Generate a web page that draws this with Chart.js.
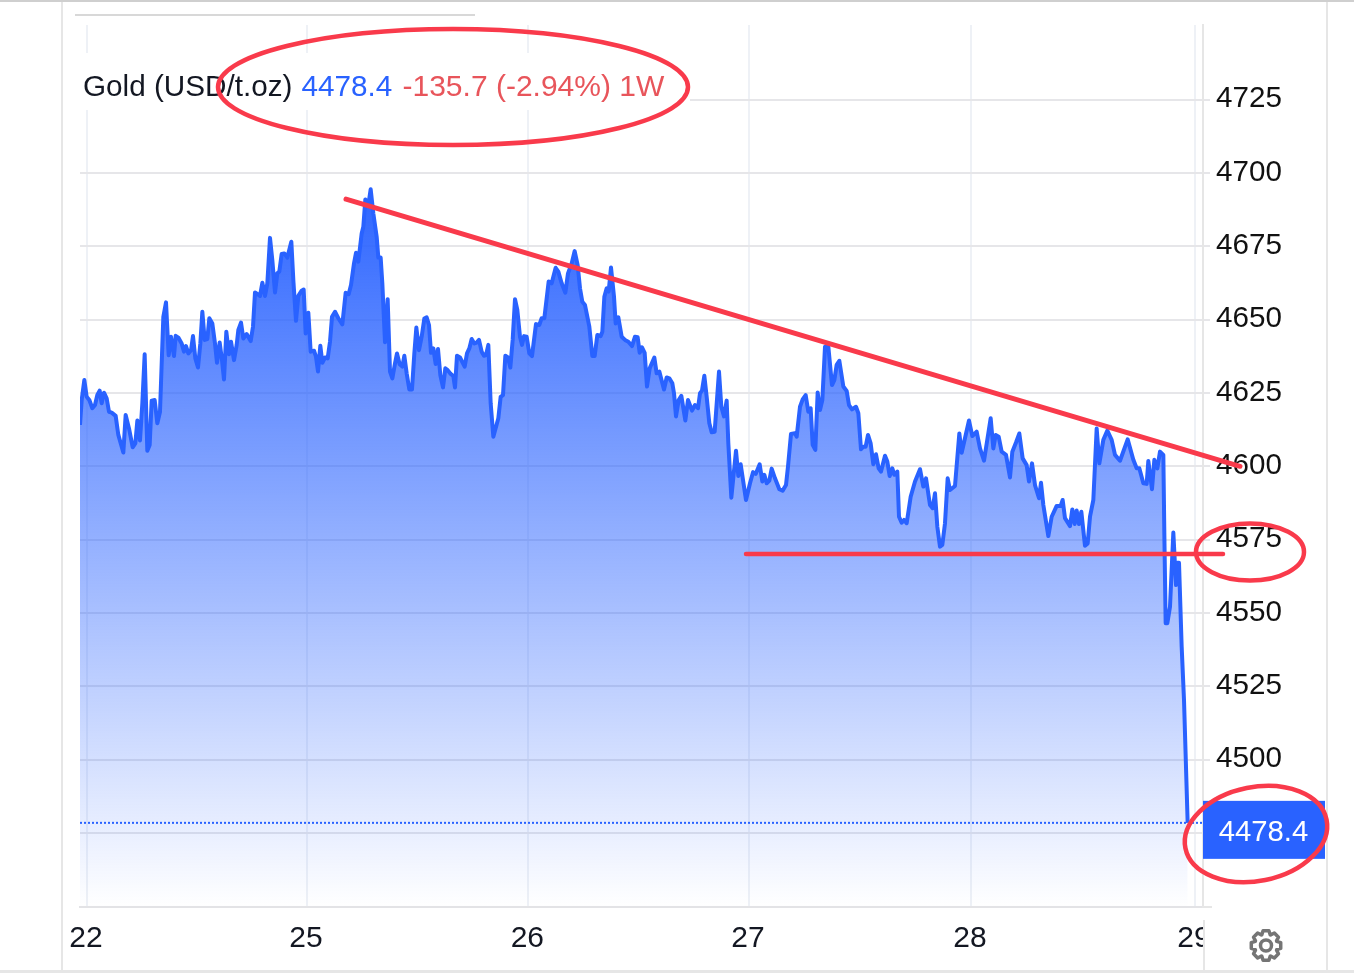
<!DOCTYPE html>
<html>
<head>
<meta charset="utf-8">
<title>Gold (USD/t.oz)</title>
<script src="https://cdn.jsdelivr.net/npm/chart.js@4"></script>
<style>
html,body{margin:0;padding:0;background:#fff;overflow:hidden}
canvas{display:block}
</style>
</head>
<body>
<canvas id="c" width="1354" height="975"></canvas>
<script>
// time axis: 663 steps to one session, 0 = session "22"
const timeSteps = [-21,-16,-8,-1,7,16,24,31,38,44,51,59,66,74,86,94,109,116,126,137,145,151,159,166,173,181,188,194,203,211,219,229,237,245,252,261,266,274,284,291,297,304,312,318,325,333,340,346,353,361,367,376,384,390,398,405,411,418,426,432,441,449,454,462,469,479,491,498,504,512,519,526,534,541,549,556,564,571,577,584,592,601,613,619,627,634,644,650,656,664,671,681,687,693,700,706,714,722,729,735,744,754,766,776,785,792,801,807,814,824,829,835,844,851,859,869,874,881,886,894,902,909,916,924,930,938,946,952,959,967,975,982,988,996,1004,1012,1019,1026,1032,1039,1046,1053,1060,1068,1075,1082,1091,1099,1104,1110,1119,1133,1140,1147,1154,1162,1169,1176,1184,1191,1197,1204,1211,1219,1234,1241,1248,1255,1263,1270,1277,1284,
1291,1299,1305,1311,1319,1327,1335,1347,1357,1364,1372,1385,1394,1406,1414,1424,1435,1443,1454,1463,1472,1479,1486,1494,1507,1516,1523,1531,1541,1546,1552,1559,1565,1572,1581,1586,1594,1604,1614,1624,1635,1644,1652,1658,1665,1673,1680,1688,1702,1709,1717,1731,1739,1747,1756,1761,1767,1775,1783,1795,1803,1815,1824,1833,1839,1845,1852,1859,1867,1874,1883,1896,1903,1911,1919,1924,1933,1947,1954,1961,1977,1989,1998,2006,2018,2026,2032,2039,2047,2054,2064,2077,2087,2097,2103,2112,2124,2129,2139,2147,2156,2164,2171,2177,2185,2192,2199,2206,2214,2224,2235,2242,2249,2257,2269,2279,2286,2295,2307,2314,2322,2329,2336,2343,2351,2359,2367,2375,2382,2394,2401,2408,2416,2422,2431,
2436,2444,2451,2459,2471,2484,2499,2509,2517,2529,2537,2544,2551,2559,2566,2574,2582,2589,2604,2617,2624,2646,2656,2669,2679,2691,2711,2719,2726,2735,2744,2757,2769,2776,2787,2797,2807,2819,2826,2835,2844,2856,2862,2869,2884,2894,2909,2921,2927,2934,2949,2956,2963,2969,2976,2983,2994,3002,3009,3019,3029,3037,3049,3061,3074,3084,3099,3122,3139,3149,3157,3169,3179,3184,3195,3202,3211,3219,3229,3232,3236,3241,3249,3259,3267,3271,3276,3284,3291,3302];
const goldPrices = [4614.1,4622.6,4629.4,4623.7,4622.6,4619.8,4620.9,4624.3,4625.8,4621.5,4625.1,4623.2,4618.6,4618.3,4617.2,4610.7,4604.7,4617.5,4612.9,4606.5,4607.8,4615.6,4608.8,4621.5,4638.2,4605.3,4607.3,4622.4,4622.6,4614.7,4618.6,4651.0,4655.9,4637.9,4644.2,4637.6,4644.5,4643.9,4641.9,4639.1,4641.0,4638.5,4639.6,4644.4,4636.8,4633.7,4641.9,4652.7,4643.1,4643.4,4650.5,4648.7,4641.9,4635.3,4642.2,4636.2,4629.6,4645.9,4638.2,4642.5,4636.2,4641.4,4646.5,4649.0,4643.6,4645.1,4642.7,4647.6,4659.3,4658.7,4658.1,4662.6,4658.1,4662.4,4677.9,4670.3,4659.3,4665.8,4666.4,4672.4,4672.6,4671.2,4676.6,4663.5,4649.6,4658.1,4659.9,4660.3,4645.3,4652.4,4639.1,4639.4,4637.4,4632.3,4641.1,4635.3,4637.1,4636.8,4642.5,4651.0,4652.7,4650.5,4648.4,4659.2,4658.7,4661.8,4669.2,4672.8,4669.8,4679.4,4681.7,4691.0,4689.1,4694.5,4686.2,4678.3,4671.2,4671.2,4662.4,4642.3,4657.0,4632.3,4630.0,4635.1,4638.5,4634.8,4634.0,4637.7,4631.7,4626.2,4626.2,4638.5,4647.3,4639.6,4644.2,4650.4,4650.8,4648.2,4638.7,4640.2,4634.9,4640.0,4631.1,4626.9,4633.4,4632.8,4631.5,4630.8,4626.9,4637.7,4637.1,4634.0,4638.5,4640.2,4643.4,4641.9,4642.2,4643.1,4639.1,4637.7,4637.9,4641.4,4621.5,4610.1,4616.4,4623.7,4624.3,4637.7,4637.1,4633.7,4643.1,4657.0,
4653.3,4644.2,4641.4,4644.4,4644.2,4638.5,4637.6,4648.5,4648.2,4650.5,4650.5,4663.0,4662.4,4667.7,4666.4,4662.4,4659.2,4665.8,4669.2,4673.4,4668.6,4660.7,4656.1,4655.0,4647.6,4637.6,4637.6,4644.8,4644.4,4645.9,4657.8,4660.7,4659.6,4667.8,4657.8,4648.7,4650.8,4644.2,4643.1,4642.5,4641.0,4644.2,4644.0,4638.7,4640.6,4638.7,4627.2,4633.4,4637.1,4631.7,4632.3,4626.2,4630.3,4630.0,4628.3,4624.9,4617.0,4622.6,4624.0,4615.6,4622.6,4619.0,4620.9,4619.8,4624.9,4625.8,4630.9,4623.7,4614.7,4611.6,4611.8,4632.3,4620.3,4617.0,4622.4,4607.8,4589.3,4605.3,4596.7,4600.7,4588.5,4594.2,4598.0,4597.4,4600.7,4594.8,4597.1,4594.2,4595.1,4599.2,4595.9,4592.2,4591.7,4593.6,4599.9,4611.0,4611.3,4610.1,4620.3,4622.8,4624.3,4618.6,4619.8,4607.3,4605.6,4625.2,4619.2,4622.6,4640.8,4640.8,4627.7,4629.4,4634.6,4636.0,4627.2,4625.7,4620.9,4619.4,4620.3,4618.1,4605.8,4606.7,4606.7,4610.7,4607.8,4600.7,4604.1,4599.3,4598.2,4603.6,4601.6,4596.7,4599.3,4597.1,4598.2,
4582.8,4580.8,4581.7,4580.6,4589.6,4594.8,4599.0,4593.1,4595.9,4586.8,4585.7,4590.8,4579.4,4572.6,4573.2,4580.6,4595.9,4591.9,4593.3,4611.2,4604.6,4615.6,4610.3,4611.8,4606.1,4601.9,4616.4,4606.1,4610.7,4610.1,4605.0,4603.9,4596.2,4605.0,4608.1,4611.2,4602.7,4600.4,4594.8,4601.0,4593.6,4589.1,4594.4,4586.8,4576.2,4582.8,4586.5,4586.5,4588.5,4582.3,4579.6,4585.3,4580.3,4584.9,4580.3,4584.5,4572.9,4573.7,4582.8,4588.5,4612.9,4601.0,4609.0,4612.2,4609.0,4603.9,4601.9,4609.2,4602.2,4599.3,4599.3,4594.2,4594.0,4601.8,4592.2,4602.2,4599.3,4605.0,4603.9,4577.1,4546.5,4546.5,4552.1,4577.4,4559.5,4567.1,4567.1,4538.5,4520.3,4478.4];
const lastPrice = 4478.4;
const priceTicks = [4475,4500,4525,4550,4575,4600,4625,4650,4675,4700,4725];
const dayTickSteps = [0,660,1324,1986,2652,3324];
const dayLabels = ['22','25','26','27','28','29'];
const resistanceTimes = [777,3459];
const resistancePrices = [4691.1,4600];
const supportTimes = [1977,3408];
const supportPrices = [4570.1,4570.1];
const axisTimeRange = [-21,3348];
const axisPriceRange = [4449.7,4750.5];
const headerParts = ['Gold (USD/t.oz)','4478.4','-135.7 (-2.94%) 1W'];

const FONT = '"Liberation Sans", Arial, sans-serif';
const BLUE = '#2962FF', RED = '#F93A4B';
const pairs = (xs, ys) => xs.map((x, i) => ({x, y: ys[i]}));

function ellipse(ctx, cx, cy, rx, ry, rot) {
  ctx.beginPath();
  ctx.ellipse(cx, cy, rx, ry, rot, 0, Math.PI * 2);
  ctx.stroke();
}

const framePlugin = {
  id: 'frame',
  beforeDatasetsDraw(chart) {
    const c = chart.ctx;
    c.save();
    c.fillStyle = '#fff';
    c.fillRect(72, 53, 618, 57);
    c.restore();
  },
  afterDraw(chart) {
    const c = chart.ctx;
    c.save();
    // clip the cut-off last day label at the price axis
    c.fillStyle = '#fff';
    c.fillRect(1205, 912, 60, 20);
    c.fillRect(1205, 920, 30, 48);
    // page frame
    c.fillStyle = '#cfcfcf'; c.fillRect(0, 0, 1354, 2);
    c.fillStyle = '#d8d8d8'; c.fillRect(75, 14, 400, 2);
    c.fillStyle = '#e6e6e6';
    c.fillRect(61, 2, 2, 968);
    c.fillRect(1326, 2, 2, 968);
    c.fillRect(1203, 920, 2, 50);
    c.fillRect(1203, 906, 9, 2);
    c.fillRect(0, 970, 1354, 3);
    // header
    c.textBaseline = 'alphabetic';
    c.textAlign = 'left';
    c.font = '29.7px ' + FONT;
    c.fillStyle = '#131722'; c.fillText(headerParts[0], 83, 96);
    c.fillStyle = BLUE;      c.fillText(headerParts[1], 301.5, 96);
    c.font = '30px ' + FONT;
    c.fillStyle = '#E8555B'; c.fillText(headerParts[2], 402.5, 96);
    // last price box
    const yp = chart.scales.y.getPixelForValue(lastPrice);
    c.fillStyle = BLUE;
    c.fillRect(1203, yp - 22, 122, 58);
    c.fillStyle = '#fff';
    c.font = '29.3px ' + FONT;
    c.textAlign = 'center';
    c.textBaseline = 'middle';
    c.fillText(lastPrice.toFixed(1), 1263.5, yp + 10);
    // settings gear
    const gx = 1266, gy = 945.5;
    c.strokeStyle = '#757575';
    c.lineWidth = 3.5;
    c.lineJoin = 'round';
    c.beginPath();
    for (let i = 0; i < 8; i++) {
      const a = i * Math.PI / 4 - Math.PI / 2;
      const s = Math.PI / 8;
      const pts = [[a - s * 0.95, 11.5], [a - s * 0.5, 15], [a + s * 0.5, 15], [a + s * 0.95, 11.5]];
      pts.forEach(([t, r], j) => {
        const px = gx + r * Math.cos(t), py = gy + r * Math.sin(t);
        if (i === 0 && j === 0) c.moveTo(px, py); else c.lineTo(px, py);
      });
    }
    c.closePath();
    c.stroke();
    c.beginPath(); c.arc(gx, gy, 5.5, 0, Math.PI * 2); c.stroke();
    // hand-drawn red marks
    c.strokeStyle = RED;
    c.lineWidth = 4.5;
    ellipse(c, 453, 87, 235, 58, 0.0);
    ellipse(c, 1250, 552, 54, 28.5, 0.0);
    ellipse(c, 1256, 834, 72, 47, -0.2);
    c.restore();
  }
};

new Chart(document.getElementById('c'), {
  type: 'line',
  plugins: [framePlugin],
  data: {
    datasets: [
      { label: 'Resistance', data: pairs(resistanceTimes, resistancePrices), borderColor: RED, borderWidth: 5,
        borderCapStyle: 'round', pointRadius: 0, fill: false, clip: false },
      { label: 'Support', data: pairs(supportTimes, supportPrices), borderColor: RED, borderWidth: 4.5,
        borderCapStyle: 'round', pointRadius: 0, fill: false, clip: false },
      { label: 'Last', data: pairs(axisTimeRange, [lastPrice, lastPrice]), borderColor: BLUE, borderWidth: 2,
        borderDash: [2, 2], pointRadius: 0, fill: false },
      { label: 'Gold', data: pairs(timeSteps, goldPrices), borderColor: BLUE, borderWidth: 4,
        borderJoinStyle: 'round', pointRadius: 0, tension: 0, fill: 'start',
        backgroundColor(ctx) {
          const a = ctx.chart.chartArea;
          if (!a) return 'rgba(41,98,255,0.5)';
          const g = ctx.chart.ctx.createLinearGradient(0, 190, 0, a.bottom);
          g.addColorStop(0, 'rgba(41,98,255,0.98)');
          g.addColorStop(1, 'rgba(41,98,255,0.0)');
          return g;
        } }
    ]
  },
  options: {
    responsive: false,
    animation: false,
    devicePixelRatio: 1,
    events: [],
    layout: { padding: { left: 80, top: 25, right: 0, bottom: 0 } },
    plugins: { legend: { display: false }, tooltip: { enabled: false }, title: { display: false } },
    scales: {
      x: {
        type: 'linear',
        min: axisTimeRange[0],
        max: axisTimeRange[1],
        afterFit(s) { s.height = 68; },
        afterBuildTicks(s) { s.ticks = dayTickSteps.map(v => ({value: v})); },
        grid: { color: '#EEF1F6', lineWidth: 2, drawTicks: false },
        border: { color: '#E3E3E6', width: 2 },
        ticks: {
          autoSkip: false, maxRotation: 0, minRotation: 0, padding: 14, labelOffset: -1,
          color: '#131722', font: { family: FONT, size: 30 },
          callback(v) { return dayLabels[dayTickSteps.indexOf(v)] ?? ''; }
        }
      },
      y: {
        type: 'linear',
        position: 'right',
        min: axisPriceRange[0],
        max: axisPriceRange[1],
        afterFit(s) { s.width = 151; },
        afterBuildTicks(s) { s.ticks = priceTicks.map(v => ({value: v})); },
        grid: { color: '#E6E6E9', lineWidth: 2, tickLength: 7 },
        border: { color: '#E6E6E6', width: 2 },
        ticks: {
          padding: 6, labelOffset: -0.5,
          color: '#111', font: { family: FONT, size: 29.6 },
          callback(v) { return v === 4475 ? '' : String(v); }
        }
      }
    }
  }
});
</script>
</body>
</html>
